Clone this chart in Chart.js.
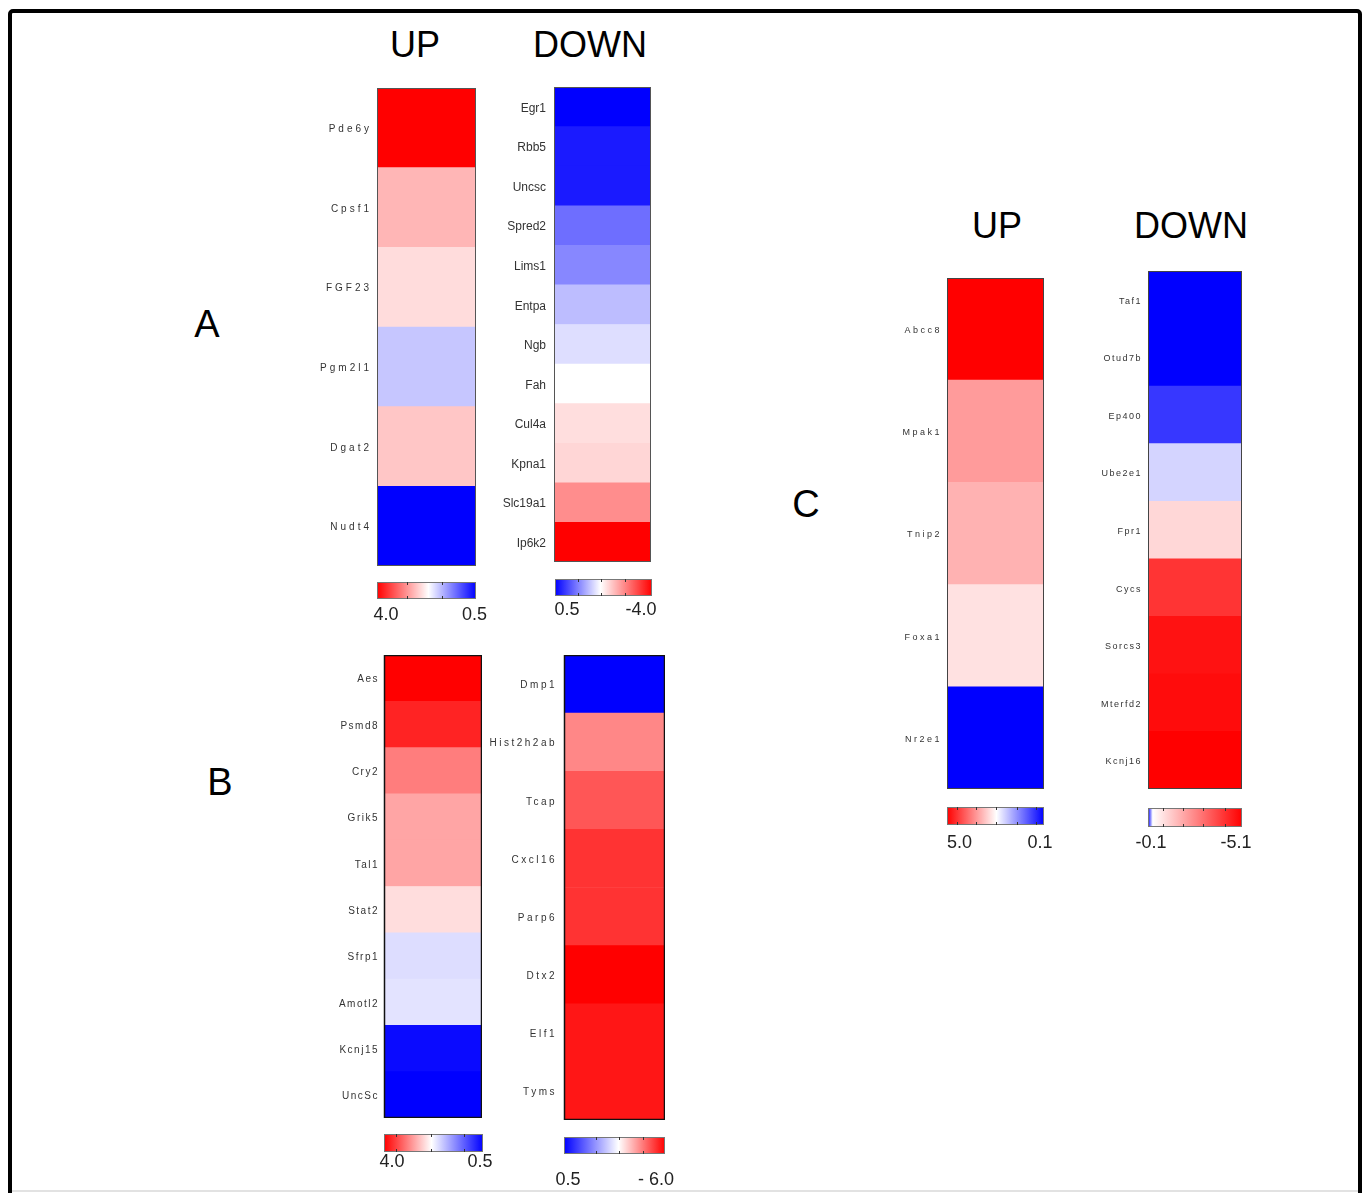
<!DOCTYPE html>
<html>
<head>
<meta charset="utf-8">
<script src="https://cdn.jsdelivr.net/npm/chart.js@4.4.1/dist/chart.umd.min.js"></script>
<style>
  html, body { margin: 0; padding: 0; background: #fff; overflow: hidden; }
  body { width: 1364px; height: 1193px; position: relative; font-family: "Liberation Sans", Arial, sans-serif; }
  .frame { position: absolute; left: 8px; top: 9px; width: 1354px; height: 1260px; box-sizing: border-box;
           border: 4px solid #000; border-radius: 5px; }
  .floor { position: absolute; left: 12px; top: 1190px; width: 1346px; height: 2px; background: #e2e2e2; }
  .txt { position: absolute; transform: translate(-50%, -50%); white-space: nowrap; line-height: 1; color: #000; }
  .box { position: absolute; }
</style>
</head>
<body>
<div class="frame"></div>
<div class="floor"></div>

<div class="txt" style="left:415px;top:45px;font-size:36px">UP</div>
<div class="txt" style="left:590px;top:45px;font-size:36px">DOWN</div>
<div class="txt" style="left:997px;top:226px;font-size:36px">UP</div>
<div class="txt" style="left:1191px;top:226px;font-size:36px">DOWN</div>
<div class="txt" style="left:207px;top:324px;font-size:38px">A</div>
<div class="txt" style="left:220px;top:782px;font-size:38px">B</div>
<div class="txt" style="left:806px;top:504px;font-size:38px">C</div>

<script>
const upA_genes = ["Pde6y", "Cpsf1", "FGF23", "Pgm2l1", "Dgat2", "Nudt4"];
const upA_values = [4.0, 2.75, 2.49, 1.86, 2.64, 0.5];
const upA_range = [4.0, 0.5];
const upA_ticks = ["4.0", "0.5"];

const downA_genes = ["Egr1", "Rbb5", "Uncsc", "Spred2", "Lims1", "Entpa", "Ngb", "Fah", "Cul4a", "Kpna1", "Slc19a1", "Ip6k2"];
const downA_values = [0.5, 0.27, 0.27, -0.47, -0.69, -1.17, -1.46, -1.75, -2.04, -2.11, -2.76, -4.0];
const downA_range = [0.5, -4.0];
const downA_ticks = ["0.5", "-4.0"];

const upB_genes = ["Aes", "Psmd8", "Cry2", "Grik5", "Tal1", "Stat2", "Sfrp1", "Amotl2", "Kcnj15", "UncSc"];
const upB_values = [4.0, 3.76, 3.14, 2.87, 2.87, 2.48, 2.02, 2.06, 0.57, 0.5];
const upB_range = [4.0, 0.5];
const upB_ticks = ["4.0", "0.5"];

const downB_genes = ["Dmp1", "Hist2h2ab", "Tcap", "Cxcl16", "Parp6", "Dtx2", "Elf1", "Tyms"];
const downB_values = [0.5, -4.28, -4.9, -5.35, -5.35, -6.0, -5.72, -5.72];
const downB_range = [0.5, -6.0];
const downB_ticks = ["0.5", "- 6.0"];

const upC_genes = ["Abcc8", "Mpak1", "Tnip2", "Foxa1", "Nr2e1"];
const upC_values = [5.0, 3.51, 3.29, 2.84, 0.1];
const upC_range = [5.0, 0.1];
const upC_ticks = ["5.0", "0.1"];

const downC_genes = ["Taf1", "Otud7b", "Ep400", "Ube2e1", "Fpr1", "Cycs", "Sorcs3", "Mterfd2", "Kcnj16"];
const downC_values = [-0.1, -0.1, -0.165, -0.35, -1.14, -4.14, -4.77, -4.88, -5.1];
const downC_range = [-0.1, -5.1];
const downC_ticks = ["-0.1", "-5.1"];

const RED = [255, 0, 0], BLUE = [0, 0, 255], WHITE = [255, 255, 255];

Chart.defaults.animation = false;
Chart.defaults.events = [];
Chart.defaults.font.family = '"Liberation Sans", Arial, sans-serif';

// colour of a value on a left->white->right diverging map
function cellColor(v, range, left, right, whiteAt) {
  const t = Math.min(1, Math.max(0, (v - range[0]) / (range[1] - range[0])));
  let a, b, f;
  if (t < whiteAt) { a = left; b = WHITE; f = t / whiteAt; }
  else { a = WHITE; b = right; f = (t - whiteAt) / (1 - whiteAt); }
  const c = a.map((x, i) => Math.round(x + (b[i] - x) * f));
  return `rgb(${c[0]},${c[1]},${c[2]})`;
}

function makeBox(x, y, w, h) {
  const d = document.createElement("div");
  d.className = "box";
  Object.assign(d.style, { left: x + "px", top: y + "px", width: w + "px", height: h + "px" });
  const c = document.createElement("canvas");
  d.appendChild(c);
  document.body.appendChild(d);
  return c;
}

// letter spacing for the gene labels and a frame round the column
const outline = {
  id: "outline",
  beforeDraw(chart, args, o) { chart.ctx.letterSpacing = o.spacing; },
  afterDatasetsDraw(chart, args, o) {
    const { ctx, chartArea: a } = chart;
    ctx.save();
    ctx.strokeStyle = o.color;
    ctx.lineWidth = o.width;
    ctx.strokeRect(a.left + 0.5, a.top + 0.5, a.right - a.left - 1, a.bottom - a.top - 1);
    ctx.restore();
  }
};

const barFrame = {
  id: "barFrame",
  afterDatasetsDraw(chart, args, o) {
    const { ctx, chartArea: a } = chart;
    ctx.save();
    ctx.strokeStyle = "#777";
    ctx.lineWidth = 1;
    ctx.strokeRect(a.left + 0.5, a.top + 0.5, a.right - a.left - 1, a.bottom - a.top - 1);
    ctx.strokeStyle = "#333";
    o.minor.forEach(f => {
      const x = Math.round(a.left + f * (a.right - a.left)) + 0.5;
      ctx.beginPath();
      ctx.moveTo(x, a.top); ctx.lineTo(x, a.top + 3);
      ctx.moveTo(x, a.bottom - 3); ctx.lineTo(x, a.bottom);
      ctx.stroke();
    });
    ctx.restore();
  }
};

function heatColumn(p) {
  const labelW = 95;
  const [x, y, w, h] = p.box;
  const canvas = makeBox(x - labelW, y, w + labelW, h);
  new Chart(canvas, {
    type: "bar",
    data: {
      labels: p.genes,
      datasets: [{
        data: p.values.map(() => [0, 1]),
        backgroundColor: p.values.map(v => cellColor(v, p.range, p.left, p.right, p.whiteAt)),
        borderWidth: 0,
        barPercentage: 1,
        categoryPercentage: 1
      }]
    },
    options: {
      indexAxis: "y",
      responsive: true,
      maintainAspectRatio: false,
      layout: { padding: 0 },
      plugins: { legend: { display: false }, tooltip: { enabled: false },
                 outline: { spacing: p.spacing, color: p.line, width: p.lineW } },
      scales: {
        x: { display: false, min: 0, max: 1 },
        y: {
          grid: { display: false, drawTicks: false },
          border: { display: false },
          ticks: { color: "#333", padding: p.pad, labelOffset: 1.5, font: { size: p.font } },
          afterFit: s => { s.width = labelW; s.paddingTop = 0; s.paddingBottom = 0; }
        }
      }
    },
    plugins: [outline]
  });
}

function colorBar(p) {
  const side = 30;
  const [x, y, w, h] = p.box;
  const labelH = 32;
  const canvas = makeBox(x - side, y, w + 2 * side, h + labelH);
  const lo = Math.min(...p.range), hi = Math.max(...p.range);
  const span = p.range[1] - p.range[0];
  new Chart(canvas, {
    type: "bar",
    data: {
      labels: [""],
      datasets: [{
        data: [p.range.slice()],
        backgroundColor: c => {
          const a = c.chart.chartArea;
          if (!a) return null;
          const g = c.chart.ctx.createLinearGradient(a.left, 0, a.right, 0);
          g.addColorStop(0, `rgb(${p.left.join(",")})`);
          g.addColorStop(p.whiteAt, "#fff");
          g.addColorStop(1, `rgb(${p.right.join(",")})`);
          return g;
        },
        borderWidth: 0,
        barPercentage: 1,
        categoryPercentage: 1
      }]
    },
    options: {
      indexAxis: "y",
      responsive: true,
      maintainAspectRatio: false,
      layout: { padding: { left: side, right: side, top: 0, bottom: 0 } },
      plugins: { legend: { display: false }, tooltip: { enabled: false }, barFrame: { minor: p.minor } },
      scales: {
        y: { display: false },
        x: {
          type: "linear", min: lo, max: hi, reverse: p.range[0] > p.range[1],
          grid: { display: false, drawTicks: false },
          border: { display: false },
          // end labels sit a little inside the bar ends, as in the source figure
          afterBuildTicks: s => {
            s.ticks = [
              { value: p.range[0] + span * p.inset[0] / w },
              { value: p.range[1] - span * p.inset[1] / w }
            ];
          },
          afterFit: s => { s.height = labelH; s.paddingLeft = 0; s.paddingRight = 0; },
          ticks: {
            autoSkip: false, maxRotation: 0,
            color: "#222", padding: p.gap - 9,
            font: { size: 18, lineHeight: 1 },
            callback: (v, i) => p.ticks[i]
          }
        }
      }
    },
    plugins: [barFrame]
  });
}

const columns = [
  { genes: upA_genes, values: upA_values, range: upA_range, left: RED, right: BLUE, whiteAt: 0.5,
    box: [377, 88, 99, 478], font: 10, spacing: "3px", pad: 5, line: "#555", lineW: 1 },
  { genes: downA_genes, values: downA_values, range: downA_range, left: BLUE, right: RED, whiteAt: 0.5,
    box: [554, 87, 97, 475], font: 12, spacing: "0px", pad: 8, line: "#555", lineW: 1 },
  { genes: upB_genes, values: upB_values, range: upB_range, left: RED, right: BLUE, whiteAt: 0.5,
    box: [384, 655, 98, 463], font: 10, spacing: "1.5px", pad: 5, line: "#111", lineW: 1.5 },
  { genes: downB_genes, values: downB_values, range: downB_range, left: BLUE, right: RED, whiteAt: 0.5,
    box: [564, 655, 101, 465], font: 10, spacing: "2.5px", pad: 7, line: "#111", lineW: 1.5 },
  { genes: upC_genes, values: upC_values, range: upC_range, left: RED, right: BLUE, whiteAt: 0.5,
    box: [947, 278, 97, 511], font: 9, spacing: "2.5px", pad: 5, line: "#444", lineW: 1 },
  { genes: downC_genes, values: downC_values, range: downC_range, left: BLUE, right: RED, whiteAt: 0.06,
    box: [1148, 271, 94, 518], font: 9, spacing: "1.5px", pad: 6, line: "#444", lineW: 1 }
];
columns.forEach(heatColumn);

const bars = [
  { range: upA_range, ticks: upA_ticks, left: RED, right: BLUE, whiteAt: 0.52, box: [377, 582, 99, 17], gap: 16, inset: [9, 1.5], minor: [0.3, 0.66] },
  { range: downA_range, ticks: downA_ticks, left: BLUE, right: RED, whiteAt: 0.47, box: [555, 579, 97, 17], gap: 14, inset: [12, 11], minor: [0.24, 0.47, 0.72] },
  { range: upB_range, ticks: upB_ticks, left: RED, right: BLUE, whiteAt: 0.48, box: [384, 1134, 99, 18], gap: 10, inset: [8, 3], minor: [0.12, 0.47, 0.81] },
  { range: downB_range, ticks: downB_ticks, left: BLUE, right: RED, whiteAt: 0.54, box: [564, 1137, 101, 17], gap: 26, inset: [4, 9], minor: [0.32, 0.54, 0.78] },
  { range: upC_range, ticks: upC_ticks, left: RED, right: BLUE, whiteAt: 0.51, box: [947, 807, 97, 18], gap: 18, inset: [12.5, 4], minor: [0.1, 0.3, 0.51, 0.72, 0.92] },
  { range: downC_range, ticks: downC_ticks, left: BLUE, right: RED, whiteAt: 0.05, box: [1148, 808, 94, 19], gap: 16, inset: [3, 6], minor: [0.16, 0.375, 0.58, 0.82] }
];
bars.forEach(colorBar);
</script>
</body>
</html>
